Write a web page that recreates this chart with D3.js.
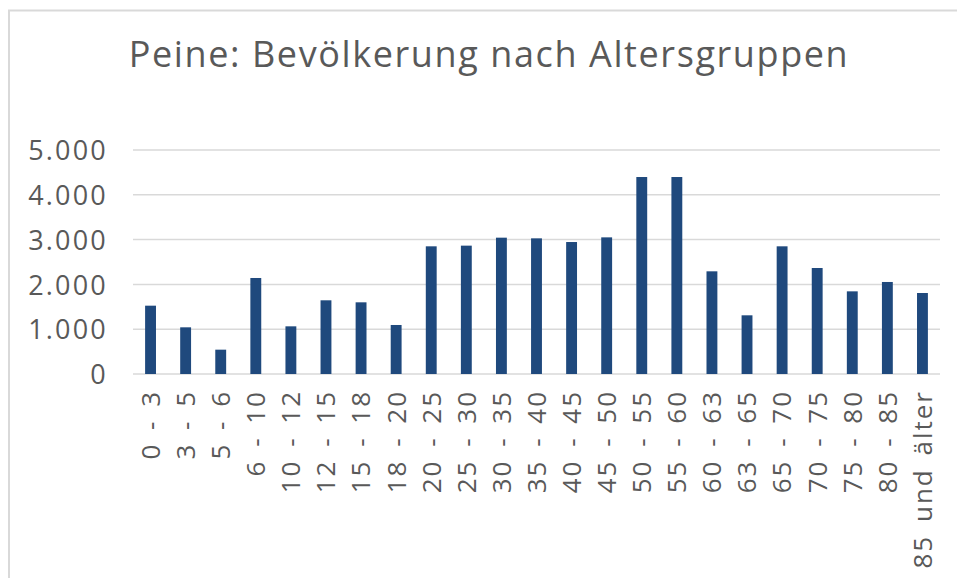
<!DOCTYPE html>
<html>
<head>
<meta charset="utf-8">
<script src="https://cdn.jsdelivr.net/npm/d3@7"></script>
<style>
  body { margin: 0; background: #fff; }
  text { font-family: "Open Sans", sans-serif; fill: #595959; }
</style>
</head>
<body>
<svg id="chart"></svg>
<script>
const width = 957;
const height = 578;
const margin = { top: 150, right: 17, bottom: 204, left: 133 };

const title = "Peine: Bevölkerung nach Altersgruppen";

const ageGroups = ["0 - 3", "3 - 5", "5 - 6", "6 - 10", "10 - 12", "12 - 15", "15 - 18", "18 - 20",
  "20 - 25", "25 - 30", "30 - 35", "35 - 40", "40 - 45", "45 - 50", "50 - 55", "55 - 60",
  "60 - 63", "63 - 65", "65 - 70", "70 - 75", "75 - 80", "80 - 85", "85 und älter"];

const population = [1525, 1042, 543, 2143, 1064, 1645, 1600, 1094,
  2850, 2865, 3043, 3028, 2946, 3050, 4397, 4397,
  2292, 1310, 2850, 2366, 1845, 2054, 1808];

const yTicks = [0, 1000, 2000, 3000, 4000, 5000];

const de = d3.formatLocale({ decimal: ",", thousands: ".", grouping: [3], currency: ["", " €"] });
const fmt = de.format(",d");

const svg = d3.select("#chart")
    .attr("width", width)
    .attr("height", height);

// chart frame (only top and left are visible in the shot)
svg.append("rect")
    .attr("x", 9)
    .attr("y", 10.5)
    .attr("width", width + 20)
    .attr("height", height + 20)
    .attr("fill", "none")
    .attr("stroke", "#d9d9d9")
    .attr("stroke-width", 2);

const x = d3.scaleBand()
    .domain(ageGroups)
    .range([margin.left, width - margin.right])
    .paddingInner(0.69)
    .paddingOuter(0.345);

const y = d3.scaleLinear()
    .domain([0, 5000])
    .range([height - margin.bottom, margin.top]);

// gridlines
svg.append("g")
    .selectAll("line")
    .data(yTicks)
    .join("line")
    .attr("x1", margin.left)
    .attr("x2", width - margin.right)
    .attr("y1", d => y(d))
    .attr("y2", d => y(d))
    .attr("stroke", "#d9d9d9")
    .attr("stroke-width", 1.5);

// bars
svg.append("g")
    .selectAll("rect")
    .data(population)
    .join("rect")
    .attr("x", (d, i) => x(ageGroups[i]))
    .attr("width", x.bandwidth())
    .attr("y", d => y(d))
    .attr("height", d => y(0) - y(d))
    .attr("fill", "#1f497d");

// y axis
const yAxis = svg.append("g")
    .attr("transform", `translate(${margin.left - 25},0)`)
    .call(d3.axisLeft(y).tickValues(yTicks).tickFormat(fmt).tickSize(0));
yAxis.select(".domain").remove();
yAxis.selectAll("text")
    .attr("x", 0)
    .attr("dy", "0.36em")
    .style("font-size", "27px")
    .style("letter-spacing", "2.2px");

// x axis
const xAxis = svg.append("g")
    .attr("transform", `translate(0,${y(0)})`)
    .call(d3.axisBottom(x).tickSize(0));
xAxis.select(".domain").remove();
xAxis.selectAll("text")
    .attr("transform", "rotate(-90)")
    .attr("x", -16)
    .attr("y", 0)
    .attr("dy", "0.36em")
    .style("text-anchor", "end")
    .style("font-size", "26px")
    .style("letter-spacing", "2px")
    .style("word-spacing", "4px");

svg.append("text")
    .attr("x", 489)
    .attr("y", 67)
    .attr("text-anchor", "middle")
    .style("font-size", "36px")
    .style("letter-spacing", "1.6px")
    .text(title);
</script>
</body>
</html>
